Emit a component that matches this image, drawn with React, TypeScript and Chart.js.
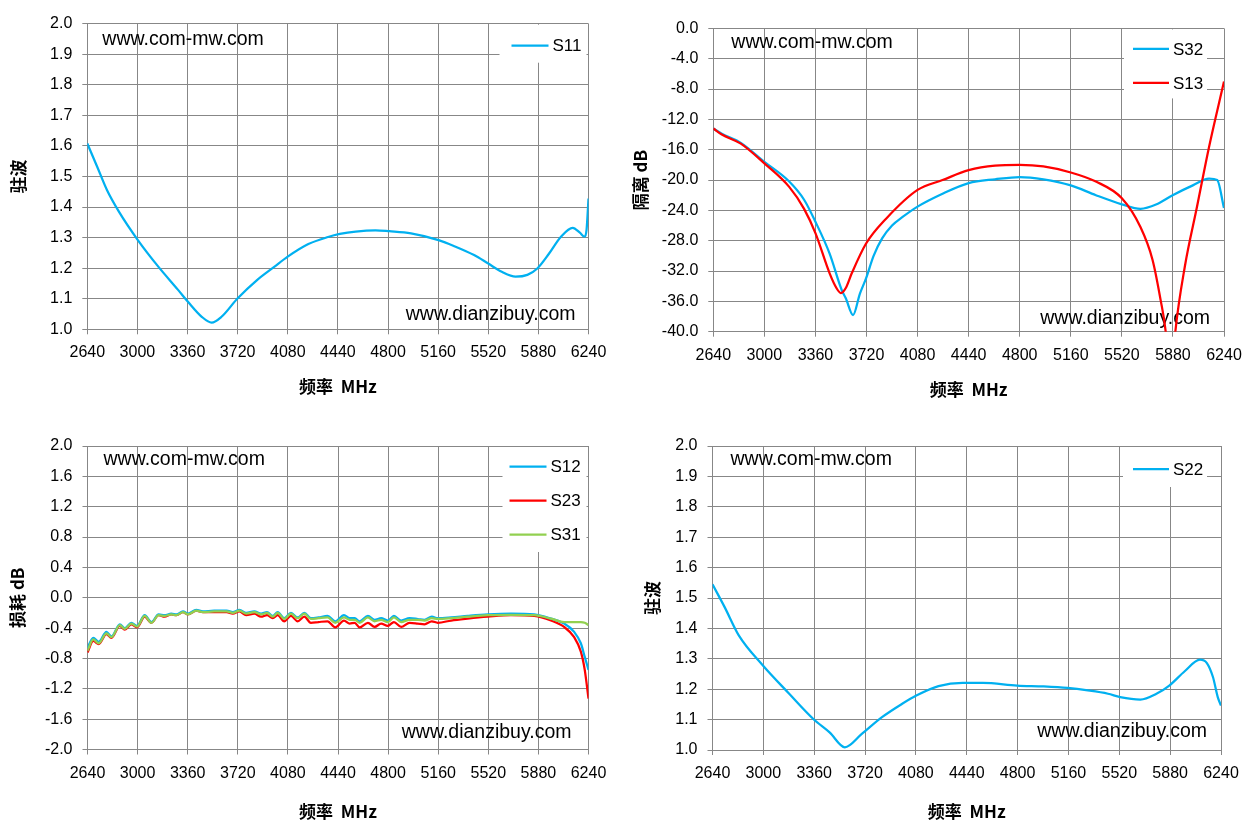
import React, { useEffect, useRef } from 'react';
import { Chart, registerables } from 'chart.js';

Chart.register(...registerables);

// ---------- data ----------
const X_TICKS = [2640, 3000, 3360, 3720, 4080, 4440, 4800, 5160, 5520, 5880, 6240];

const WATERMARK_TOP = 'www.com-mw.com';
const WATERMARK_BOTTOM = 'www.dianzibuy.com';

// Chart 1: S11 VSWR
const S11_FREQ = [2640, 2711, 2782, 2867, 3003, 3150, 3292, 3363, 3462, 3533, 3604, 3717, 3859, 3985, 4077, 4228, 4369, 4454, 4568, 4710, 4809, 4965, 5163, 5277, 5418, 5517, 5617, 5716, 5801, 5872, 5957, 6042, 6127, 6178, 6212, 6226, 6240];
const S11_VSWR = [1.608, 1.532, 1.455, 1.385, 1.292, 1.205, 1.129, 1.09, 1.041, 1.022, 1.041, 1.1, 1.161, 1.205, 1.237, 1.279, 1.302, 1.312, 1.32, 1.324, 1.321, 1.314, 1.292, 1.272, 1.243, 1.216, 1.188, 1.172, 1.178, 1.199, 1.248, 1.303, 1.332, 1.316, 1.303, 1.325, 1.428];

// Chart 2: isolation
const S32_FREQ = [2640, 2700, 2834, 3000, 3175, 3280, 3360, 3460, 3545, 3574, 3625, 3673, 3716, 3770, 3830, 3900, 3972, 4080, 4256, 4440, 4626, 4800, 4967, 5160, 5337, 5520, 5651, 5765, 5878, 6020, 6135, 6192, 6240];
const S32_DB = [-13.2, -13.9, -15.1, -17.6, -20.2, -22.6, -25.5, -29.7, -34.5, -35.6, -37.8, -35.0, -33.0, -30.0, -27.7, -26.0, -24.9, -23.5, -21.8, -20.4, -19.9, -19.6, -19.9, -20.7, -22.0, -23.2, -23.8, -23.2, -22.0, -20.7, -19.8, -20.0, -23.7];
const S13_FREQ = [2640, 2700, 2834, 3000, 3175, 3280, 3360, 3460, 3510, 3539, 3575, 3616, 3716, 3858, 4080, 4256, 4440, 4626, 4800, 4967, 5160, 5337, 5520, 5651, 5736, 5793, 5829, 5850, 5875, 5897, 5964, 6050, 6135, 6240];
const S13_DB = [-13.2, -14.0, -15.2, -17.8, -20.9, -23.8, -27.0, -32.3, -34.3, -34.9, -34.2, -32.3, -28.4, -25.1, -21.3, -20.0, -18.7, -18.1, -18.0, -18.2, -19.0, -20.2, -22.4, -26.2, -30.5, -35.8, -40.0, -45.0, -45.0, -40.0, -31.4, -23.5, -15.6, -7.0];

// Chart 3: insertion loss
const LOSS_FREQ = [2640, 2681, 2721, 2776, 2812, 2872, 2908, 2955, 2996, 3051, 3099, 3151, 3194, 3242, 3280, 3326, 3362, 3421, 3469, 3550, 3640, 3684, 3732, 3780, 3839, 3887, 3930, 3971, 4007, 4054, 4102, 4150, 4198, 4245, 4300, 4365, 4420, 4483, 4524, 4560, 4595, 4655, 4703, 4750, 4798, 4842, 4894, 4954, 5014, 5061, 5114, 5157, 5253, 5372, 5516, 5683, 5850, 5970, 6065, 6137, 6185, 6213, 6240];
const S12_DB = [-0.66, -0.53, -0.58, -0.45, -0.51, -0.35, -0.40, -0.33, -0.37, -0.23, -0.32, -0.22, -0.23, -0.21, -0.22, -0.18, -0.21, -0.16, -0.18, -0.17, -0.17, -0.19, -0.16, -0.20, -0.18, -0.21, -0.19, -0.24, -0.19, -0.27, -0.20, -0.26, -0.20, -0.27, -0.26, -0.24, -0.31, -0.23, -0.27, -0.27, -0.31, -0.24, -0.29, -0.27, -0.30, -0.24, -0.30, -0.27, -0.28, -0.29, -0.25, -0.27, -0.26, -0.24, -0.22, -0.21, -0.22, -0.275, -0.34, -0.45, -0.60, -0.78, -0.95];
const S23_DB = [-0.72, -0.57, -0.61, -0.48, -0.53, -0.37, -0.42, -0.35, -0.39, -0.25, -0.33, -0.23, -0.25, -0.22, -0.23, -0.19, -0.22, -0.17, -0.19, -0.19, -0.19, -0.21, -0.18, -0.23, -0.21, -0.25, -0.23, -0.27, -0.23, -0.31, -0.24, -0.31, -0.25, -0.33, -0.32, -0.31, -0.39, -0.30, -0.34, -0.33, -0.39, -0.33, -0.385, -0.34, -0.37, -0.32, -0.385, -0.33, -0.34, -0.35, -0.31, -0.33, -0.30, -0.275, -0.25, -0.23, -0.24, -0.30, -0.385, -0.52, -0.71, -0.95, -1.33];
const S31_DB = [-0.70, -0.55, -0.60, -0.47, -0.52, -0.36, -0.41, -0.34, -0.38, -0.24, -0.33, -0.23, -0.24, -0.22, -0.23, -0.19, -0.22, -0.17, -0.19, -0.18, -0.18, -0.20, -0.17, -0.21, -0.19, -0.22, -0.20, -0.25, -0.20, -0.28, -0.21, -0.27, -0.21, -0.28, -0.27, -0.26, -0.33, -0.26, -0.29, -0.29, -0.33, -0.26, -0.31, -0.29, -0.32, -0.26, -0.32, -0.29, -0.29, -0.30, -0.27, -0.28, -0.27, -0.25, -0.23, -0.225, -0.23, -0.275, -0.32, -0.32, -0.32, -0.33, -0.36];

// Chart 4: S22 VSWR
const S22_FREQ = [2640, 2726, 2826, 2997, 3183, 3354, 3469, 3577, 3697, 3840, 3983, 4083, 4240, 4411, 4554, 4797, 4983, 5154, 5297, 5440, 5526, 5669, 5783, 5874, 5983, 6091, 6140, 6183, 6217, 6240];
const S22_VSWR = [1.545, 1.47, 1.377, 1.278, 1.185, 1.102, 1.058, 1.009, 1.053, 1.108, 1.152, 1.179, 1.21, 1.221, 1.221, 1.212, 1.209, 1.204, 1.196, 1.185, 1.174, 1.166, 1.185, 1.212, 1.259, 1.297, 1.286, 1.24, 1.174, 1.146];

// ---------- styles ----------
const BLUE = '#00B0F0';
const RED = '#FF0000';
const GREEN = '#92D050';
const GRID = '#878787';
const LATIN = '"Liberation Sans", Arial, sans-serif';
const CJK = '"Noto Sans CJK SC", "Noto Sans", sans-serif';

const pts = (xs: number[], ys: number[]) => xs.map((x, i) => ({ x, y: ys[i] }));

const overlayPlugin = {
  id: 'overlay',
  beforeDatasetsDraw(chart: any, _args: any, opts: any) {
    const { ctx, chartArea: a } = chart;
    ctx.save();
    ctx.fillStyle = '#000';
    ctx.textBaseline = 'middle';
    ctx.font = `19.5px ${LATIN}`;
    ctx.textAlign = 'left';
    ctx.fillText(WATERMARK_TOP, a.left + opts.wmTop[0], a.top + opts.wmTop[1]);
    ctx.textAlign = 'right';
    ctx.fillText(WATERMARK_BOTTOM, a.right - opts.wmBottom[0], a.bottom - opts.wmBottom[1]);
    const L = opts.legend;
    const bx = a.right - L.right - L.width;
    const by = a.top + L.top;
    ctx.fillStyle = '#fff';
    ctx.fillRect(bx, by, L.width, L.height);
    chart.data.datasets.forEach((ds: any, i: number) => {
      const y = by + L.firstRow + i * L.rowGap;
      ctx.strokeStyle = ds.borderColor;
      ctx.lineWidth = ds.borderWidth;
      ctx.beginPath();
      ctx.moveTo(bx + L.lineX, y);
      ctx.lineTo(bx + L.lineX + L.lineLen, y);
      ctx.stroke();
      ctx.fillStyle = '#000';
      ctx.textAlign = 'left';
      ctx.font = `17px ${LATIN}`;
      ctx.fillText(ds.label, bx + L.lineX + L.lineLen + 4, y + 1);
    });
    ctx.restore();
  },
};

type Cfg = {
  x: number; y: number; w: number; h: number;
  pad: { left: number; top: number; right: number; bottom: number };
  yW: number; xH: number;
  yMin: number; yMax: number; yStep: number; yTitle: string;
  datasets: any[];
  wmTop: number[]; wmBottom: number[];
  legend: any;
};

const CHARTS: Cfg[] = [
  {
    x: 0, y: 0, w: 626, h: 413,
    pad: { left: 5, top: 23.7, right: 37.5, bottom: 13 }, yW: 82.3, xH: 70.7,
    yMin: 1, yMax: 2, yStep: 0.1, yTitle: '驻波',
    datasets: [{ label: 'S11', data: pts(S11_FREQ, S11_VSWR), borderColor: BLUE, order: 0 }],
    wmTop: [15, 16], wmBottom: [13, 15],
    legend: { right: 2, width: 87, top: 1, height: 38, firstRow: 21, rowGap: 34, lineX: 12, lineLen: 37 },
  },
  {
    x: 626, y: 0, w: 627, h: 413,
    pad: { left: 1, top: 28.4, right: 29, bottom: 10 }, yW: 86.3, xH: 71.3,
    yMin: -40, yMax: 0, yStep: 4, yTitle: '隔离 dB',
    datasets: [
      { label: 'S32', data: pts(S32_FREQ, S32_DB), borderColor: BLUE, order: 1 },
      { label: 'S13', data: pts(S13_FREQ, S13_DB), borderColor: RED, order: 0 },
    ],
    wmTop: [18, 14], wmBottom: [14, 13.5],
    legend: { right: 17, width: 83, top: 1, height: 69, firstRow: 19.5, rowGap: 34, lineX: 9, lineLen: 36 },
  },
  {
    x: 0, y: 413, w: 626, h: 413,
    pad: { left: 4, top: 33, right: 37.5, bottom: 1 }, yW: 83.5, xH: 75.5,
    yMin: -2, yMax: 2, yStep: 0.4, yTitle: '损耗 dB',
    datasets: [
      { label: 'S12', data: pts(LOSS_FREQ, S12_DB), borderColor: BLUE, order: 1 },
      { label: 'S23', data: pts(LOSS_FREQ, S23_DB), borderColor: RED, order: 2 },
      { label: 'S31', data: pts(LOSS_FREQ, S31_DB), borderColor: GREEN, order: 0 },
    ],
    wmTop: [16, 14], wmBottom: [17, 16.5],
    legend: { right: 2, width: 84, top: 1, height: 105, firstRow: 19.7, rowGap: 34, lineX: 7, lineLen: 37 },
  },
  {
    x: 626, y: 413, w: 627, h: 413,
    pad: { left: 13, top: 33, right: 32, bottom: 1 }, yW: 73.5, xH: 75,
    yMin: 1, yMax: 2, yStep: 0.1, yTitle: '驻波',
    datasets: [{ label: 'S22', data: pts(S22_FREQ, S22_VSWR), borderColor: BLUE, order: 0 }],
    wmTop: [18, 14], wmBottom: [14, 18],
    legend: { right: 14, width: 84, top: 1, height: 40, firstRow: 22, rowGap: 34, lineX: 10, lineLen: 36 },
  },
];

function SChart({ cfg }: { cfg: Cfg }) {
  const ref = useRef<HTMLCanvasElement>(null);
  useEffect(() => {
    if (!ref.current) return;
    const chart = new Chart(ref.current, {
      type: 'line',
      data: {
        datasets: cfg.datasets.map((d) => ({
          ...d,
          borderWidth: 2.25,
          pointRadius: 0,
          fill: false,
          cubicInterpolationMode: 'monotone',
        })),
      },
      options: {
        responsive: false,
        animation: false,
        devicePixelRatio: 1,
        layout: { padding: cfg.pad },
        plugins: {
          legend: { display: false },
          tooltip: { enabled: false },
          overlay: { wmTop: cfg.wmTop, wmBottom: cfg.wmBottom, legend: cfg.legend },
        } as any,
        scales: {
          x: {
            type: 'linear',
            min: 2640,
            max: 6240,
            afterBuildTicks: (s: any) => { s.ticks = X_TICKS.map((value) => ({ value })); },
            afterFit: (s: any) => { s.height = cfg.xH; },
            grid: { color: GRID, lineWidth: 1, tickLength: 5, drawTicks: true, tickColor: GRID },
            border: { display: true, color: GRID, width: 1 },
            ticks: {
              padding: 9,
              maxRotation: 0,
              autoSkip: false,
              color: '#000',
              font: { family: LATIN, size: 16 },
              callback: (v: any) => String(v),
            },
            title: {
              display: true,
              text: '频率  MHz',
              color: '#000',
              font: { family: CJK, size: 17, weight: 'bold' },
              padding: { top: 3, bottom: 3 },
            },
          },
          y: {
            type: 'linear',
            min: cfg.yMin,
            max: cfg.yMax,
            afterFit: (s: any) => { s.width = cfg.yW; },
            grid: { color: GRID, lineWidth: 1, tickLength: 5, drawTicks: true, tickColor: GRID },
            border: { display: true, color: GRID, width: 1 },
            ticks: {
              stepSize: cfg.yStep,
              padding: 10,
              color: '#000',
              font: { family: LATIN, size: 16 },
              callback: (v: any) => Number(v).toFixed(1),
            },
            title: {
              display: true,
              text: cfg.yTitle,
              color: '#000',
              font: { family: CJK, size: 17, weight: 'bold' },
              padding: { top: 3, bottom: 3 },
            },
          },
        },
      } as any,
      plugins: [overlayPlugin],
    });
    return () => chart.destroy();
  }, [cfg]);
  return (
    <canvas
      ref={ref}
      width={cfg.w}
      height={cfg.h}
      style={{ position: 'absolute', left: cfg.x, top: cfg.y, width: cfg.w, height: cfg.h }}
    />
  );
}

export default function App() {
  return (
    <div style={{ position: 'absolute', left: 0, top: 0, width: 1253, height: 826, background: '#fff', overflow: 'hidden' }}>
      {CHARTS.map((c, i) => (
        <SChart key={i} cfg={c} />
      ))}
    </div>
  );
}
